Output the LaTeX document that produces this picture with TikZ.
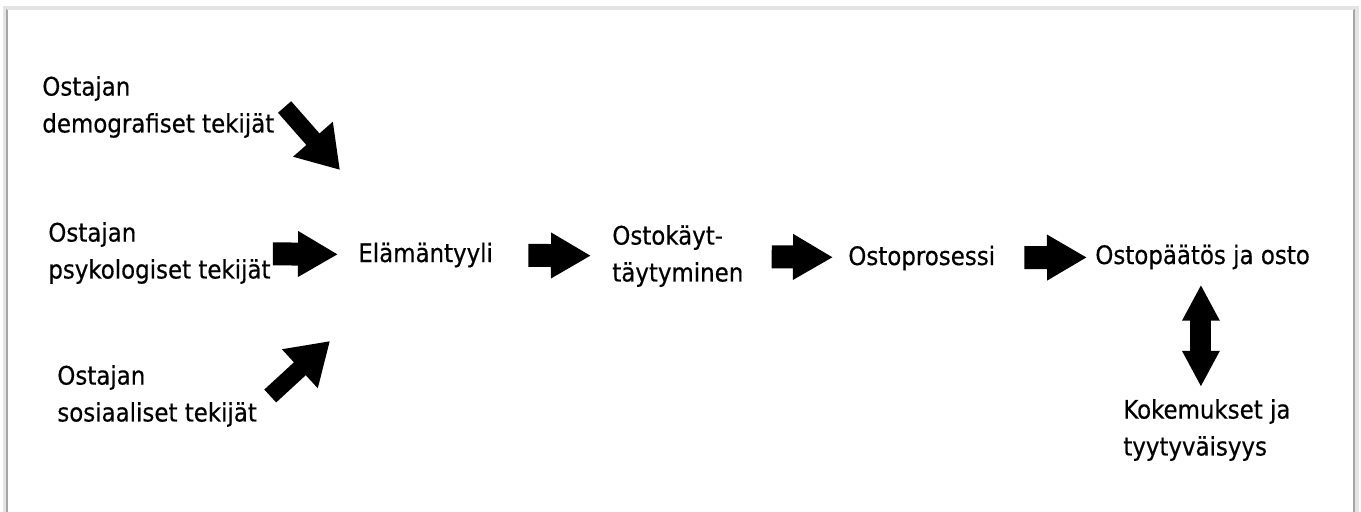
\documentclass[tikz,border=0pt]{standalone}
\usepackage{fontspec}
\setmainfont{DejaVu Sans Condensed}[FakeBold=0.5]
\usepackage{tikz}
\usetikzlibrary{arrows.meta,positioning,calc}
\definecolor{frameline}{HTML}{A6A6A6}
\definecolor{frameshade}{HTML}{E4E4E4}

\begin{document}
\begin{tikzpicture}[x=0.02cm,y=-0.02cm,
  label/.style={inner sep=0pt, anchor=west, align=left, text=black, font=\fontsize{14.5}{21}\selectfont},
  flowarrow/.style={line width=0.46cm, -{Triangle[length=0.8cm,width=0.86cm]}},
  slantarrow/.style={line width=0.35cm, -{Triangle[length=0.82cm,width=1.0cm]}},
  bothways/.style={line width=0.42cm, {Triangle[length=0.72cm,width=0.7cm]}-{Triangle[length=0.72cm,width=0.7cm]}}]
  \useasboundingbox (0,0) rectangle (1361,511);
  % framed sheet with soft shadow
  \fill[frameshade] (3,6) rectangle (1359,520);
  \fill[white] (8,10) rectangle (1353,520);
  \draw[frameline, line width=0.05cm] (7,520) -- (7,9);
  \draw[frameline, line width=0.05cm] (1354,9) -- (1354,520);
  \draw[frameshade, line width=0.04cm] (7,9) -- (1354,9);

  % buyer factors
  \node[label] (demo) at (42,107) {Ostajan\\demografiset tekijät};
  \node[label] (psych) at (48,253) {Ostajan\\psykologiset tekijät};
  \node[label] (social) at (57,396) {Ostajan\\sosiaaliset tekijät};

  % main chain
  \node[label] (elam) at (358,255) {Elämäntyyli};
  \node[label] (ostok) at (612,256) {Ostokäyt-\\täytyminen};
  \node[label] (ostop) at (848,258) {Ostoprosessi};
  \node[label] (paatos) at (1095,257) {Ostopäätös ja osto};
  \node[label] (koke) at (1123,430) {Kokemukset ja\\tyytyväisyys};

  \coordinate (demo tip) at (340,170);
  \coordinate (social tip) at (330,341);

  \draw[slantarrow] ([xshift=0.2cm]demo.east) -- (demo tip);
  \draw[flowarrow, shorten <=0.04cm, shorten >=0.40cm] (psych) -- (elam);
  \draw[slantarrow] ([xshift=0.26cm]social.east) -- (social tip);
  \draw[flowarrow, shorten <=0.70cm, shorten >=0.42cm] (elam) -- (ostok);
  \draw[flowarrow, shorten <=0.56cm, shorten >=0.30cm] (ostok) -- (ostop);
  \draw[flowarrow, shorten <=0.58cm, shorten >=0.16cm] (ostop) -- (paatos);
  \draw[bothways, shorten <=0.30cm, shorten >=0.24cm] ([xshift=-0.12cm]paatos.south -| koke.north) -- ([xshift=-0.12cm]koke.north);
\end{tikzpicture}
\end{document}
